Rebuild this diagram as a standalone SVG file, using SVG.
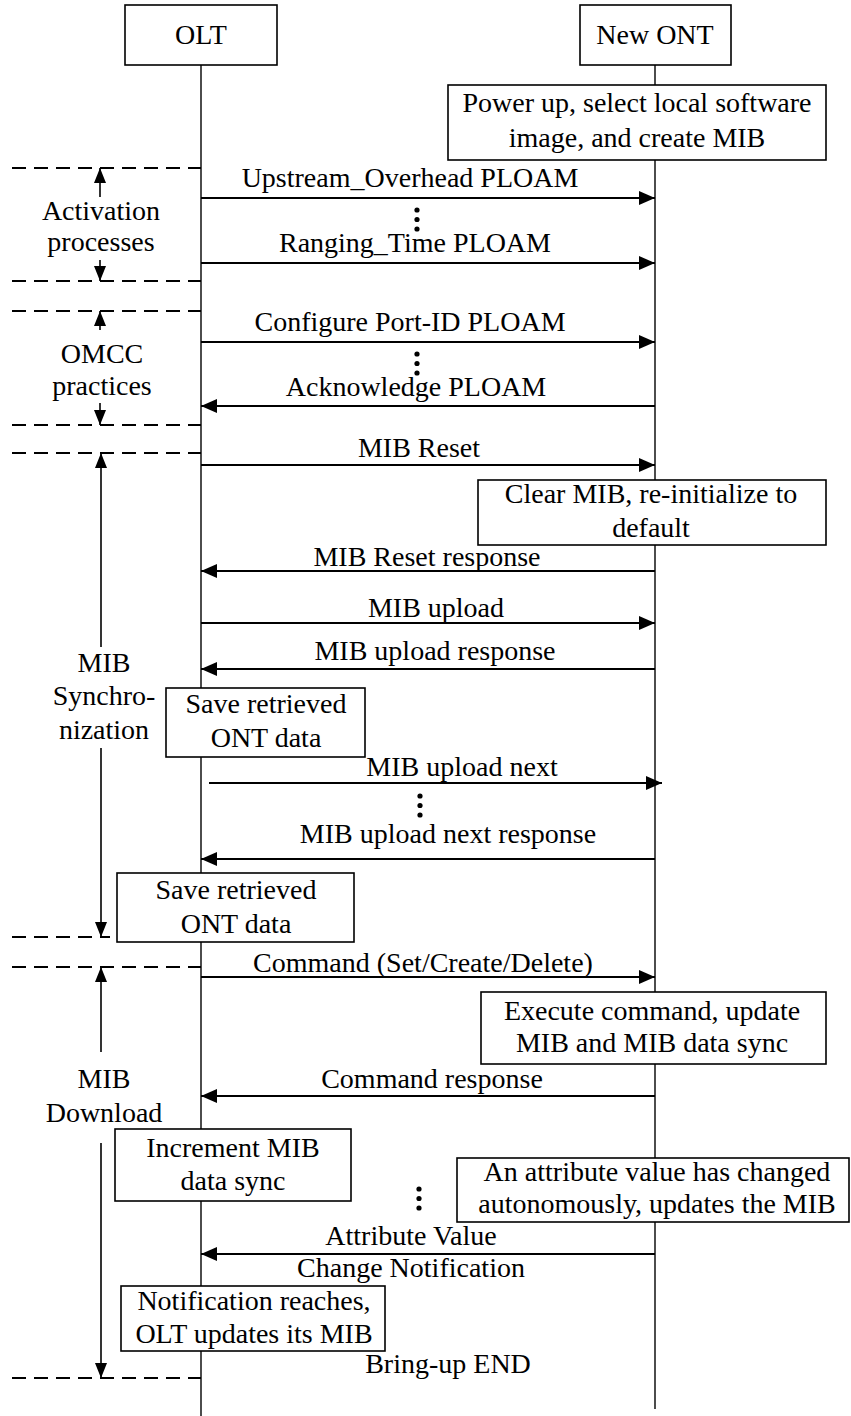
<svg xmlns="http://www.w3.org/2000/svg" width="851" height="1416" viewBox="0 0 851 1416">
  <defs>
    <!-- head used on every message line -->
    <marker id="msgHead" markerUnits="userSpaceOnUse" markerWidth="16" markerHeight="14" refX="16" refY="7" orient="auto">
      <path d="M0,0 L16,7 L0,14 z" fill="#000"/>
    </marker>
    <!-- head used on the phase span arrows at the left -->
    <marker id="spanHead" markerUnits="userSpaceOnUse" markerWidth="15" markerHeight="12" refX="15" refY="6" orient="auto">
      <path d="M0,0 L15,6 L0,12 z" fill="#000"/>
    </marker>
  </defs>
  <style>
    text { font-family: "Liberation Serif", "Times New Roman", serif; font-size: 28px; fill: #000; text-anchor: middle; }
    .box { fill: #fff; stroke: #000; stroke-width: 1.6; }
    .life { stroke: #000; stroke-width: 1.4; fill: none; }
    .msg { stroke: #000; stroke-width: 2; fill: none; marker-end: url(#msgHead); }
    .sep { stroke: #000; stroke-width: 1.8; stroke-dasharray: 14 8; fill: none; }
    .span { stroke: #000; stroke-width: 1.6; fill: none; marker-end: url(#spanHead); }
    .dot { fill: #000; }
  </style>

  <rect width="851" height="1416" fill="#fff"/>

  <!-- lifelines -->
  <g id="lifelines">
    <line class="life" x1="201" y1="65" x2="201" y2="1416"/>
    <line class="life" x1="655" y1="65" x2="655" y2="1409"/>
  </g>

  <!-- phase separators and span arrows -->
  <g id="phase-activation">
    <line class="sep" x1="12" y1="168" x2="201" y2="168"/>
    <line class="sep" x1="12" y1="281" x2="201" y2="281"/>
    <line class="span" x1="100" y1="197" x2="100" y2="168"/>
    <line class="span" x1="100" y1="260" x2="100" y2="281"/>
    <text x="101" y="220">Activation</text>
    <text x="101" y="251">processes</text>
  </g>
  <g id="phase-omcc">
    <line class="sep" x1="12" y1="311" x2="201" y2="311"/>
    <line class="sep" x1="12" y1="425" x2="201" y2="425"/>
    <line class="span" x1="100" y1="330" x2="100" y2="311"/>
    <line class="span" x1="100" y1="403" x2="100" y2="425"/>
    <text x="102" y="363">OMCC</text>
    <text x="102" y="395">practices</text>
  </g>
  <g id="phase-mib-sync">
    <line class="sep" x1="12" y1="453" x2="201" y2="453"/>
    <line class="sep" x1="12" y1="937" x2="110" y2="937"/>
    <line class="span" x1="101" y1="647" x2="101" y2="453"/>
    <line class="span" x1="101" y1="748" x2="101" y2="937"/>
    <text x="104" y="672">MIB</text>
    <text x="104" y="705">Synchro-</text>
    <text x="104" y="739">nization</text>
  </g>
  <g id="phase-mib-download">
    <line class="sep" x1="12" y1="967" x2="201" y2="967"/>
    <line class="sep" x1="12" y1="1378" x2="201" y2="1378"/>
    <line class="span" x1="101" y1="1052" x2="101" y2="967"/>
    <line class="span" x1="101" y1="1143" x2="101" y2="1378"/>
    <text x="104" y="1088">MIB</text>
    <text x="104" y="1122">Download</text>
  </g>

  <!-- participants -->
  <g id="olt">
    <rect class="box" x="125" y="5" width="152" height="60"/>
    <text x="201" y="44">OLT</text>
  </g>
  <g id="new-ont">
    <rect class="box" x="580" y="5" width="151" height="60"/>
    <text x="655" y="44">New ONT</text>
  </g>

  <!-- action boxes -->
  <g id="power-up">
    <rect class="box" x="448" y="85" width="378" height="75"/>
    <text x="637" y="112">Power up, select local software</text>
    <text x="637" y="147">image, and create MIB</text>
  </g>
  <g id="clear-mib">
    <rect class="box" x="478" y="480" width="348" height="65"/>
    <text x="651" y="503">Clear MIB, re-initialize to</text>
    <text x="651" y="537">default</text>
  </g>
  <g id="save-data-1">
    <rect class="box" x="166" y="688" width="199" height="69"/>
    <text x="266" y="713">Save retrieved</text>
    <text x="266" y="747">ONT data</text>
  </g>
  <g id="save-data-2">
    <rect class="box" x="117" y="873" width="237" height="69"/>
    <text x="236" y="899">Save retrieved</text>
    <text x="236" y="933">ONT data</text>
  </g>
  <g id="execute-command">
    <rect class="box" x="481" y="992" width="345" height="72"/>
    <text x="652" y="1020">Execute command, update</text>
    <text x="652" y="1052">MIB and MIB data sync</text>
  </g>
  <g id="increment-sync">
    <rect class="box" x="115" y="1129" width="236" height="72"/>
    <text x="233" y="1157">Increment MIB</text>
    <text x="233" y="1190">data sync</text>
  </g>
  <g id="attribute-changed">
    <rect class="box" x="457" y="1158" width="392" height="64"/>
    <text x="657" y="1181">An attribute value has changed</text>
    <text x="657" y="1213">autonomously, updates the MIB</text>
  </g>
  <g id="olt-updates">
    <rect class="box" x="121" y="1286" width="264" height="65"/>
    <text x="254" y="1310">Notification reaches,</text>
    <text x="254" y="1343">OLT updates its MIB</text>
  </g>
  <g id="bring-up-end">
    <text x="448" y="1373">Bring-up END</text>
  </g>

  <!-- messages between OLT and ONT -->
  <g id="connectors">
    <line class="msg" x1="201" y1="198" x2="655" y2="198"/>
    <text x="410" y="187">Upstream_Overhead PLOAM</text>
    <line class="msg" x1="201" y1="263" x2="655" y2="263"/>
    <text x="415" y="252">Ranging_Time PLOAM</text>

    <line class="msg" x1="201" y1="342" x2="655" y2="342"/>
    <text x="410" y="331">Configure Port-ID PLOAM</text>
    <line class="msg" x1="655" y1="406" x2="201" y2="406"/>
    <text x="416" y="396">Acknowledge PLOAM</text>

    <line class="msg" x1="201" y1="465" x2="655" y2="465"/>
    <text x="419" y="457">MIB Reset</text>
    <line class="msg" x1="655" y1="571" x2="201" y2="571"/>
    <text x="427" y="566">MIB Reset response</text>

    <line class="msg" x1="201" y1="623" x2="655" y2="623"/>
    <text x="436" y="617">MIB upload</text>
    <line class="msg" x1="655" y1="669" x2="201" y2="669"/>
    <text x="435" y="660">MIB upload response</text>

    <line class="msg" x1="209" y1="783" x2="662" y2="783"/>
    <text x="462" y="776">MIB upload next</text>
    <line class="msg" x1="655" y1="859" x2="201" y2="859"/>
    <text x="448" y="843">MIB upload next response</text>

    <line class="msg" x1="201" y1="977" x2="655" y2="977"/>
    <text x="423" y="972">Command (Set/Create/Delete)</text>
    <line class="msg" x1="655" y1="1096" x2="201" y2="1096"/>
    <text x="432" y="1088">Command response</text>

    <line class="msg" x1="655" y1="1254" x2="201" y2="1254"/>
    <text x="411" y="1245">Attribute Value</text>
    <text x="411" y="1277">Change Notification</text>

    <!-- ellipsis marks for repeated exchanges -->
    <circle class="dot" cx="417" cy="210" r="2.6"/>
    <circle class="dot" cx="417" cy="219.5" r="2.6"/>
    <circle class="dot" cx="417" cy="229" r="2.6"/>
    <circle class="dot" cx="417" cy="354" r="2.6"/>
    <circle class="dot" cx="417" cy="363.5" r="2.6"/>
    <circle class="dot" cx="417" cy="373" r="2.6"/>
    <circle class="dot" cx="420" cy="796" r="2.6"/>
    <circle class="dot" cx="420" cy="805.5" r="2.6"/>
    <circle class="dot" cx="420" cy="815" r="2.6"/>
    <circle class="dot" cx="419" cy="1189" r="2.6"/>
    <circle class="dot" cx="419" cy="1198.5" r="2.6"/>
    <circle class="dot" cx="419" cy="1208" r="2.6"/>
  </g>
</svg>
